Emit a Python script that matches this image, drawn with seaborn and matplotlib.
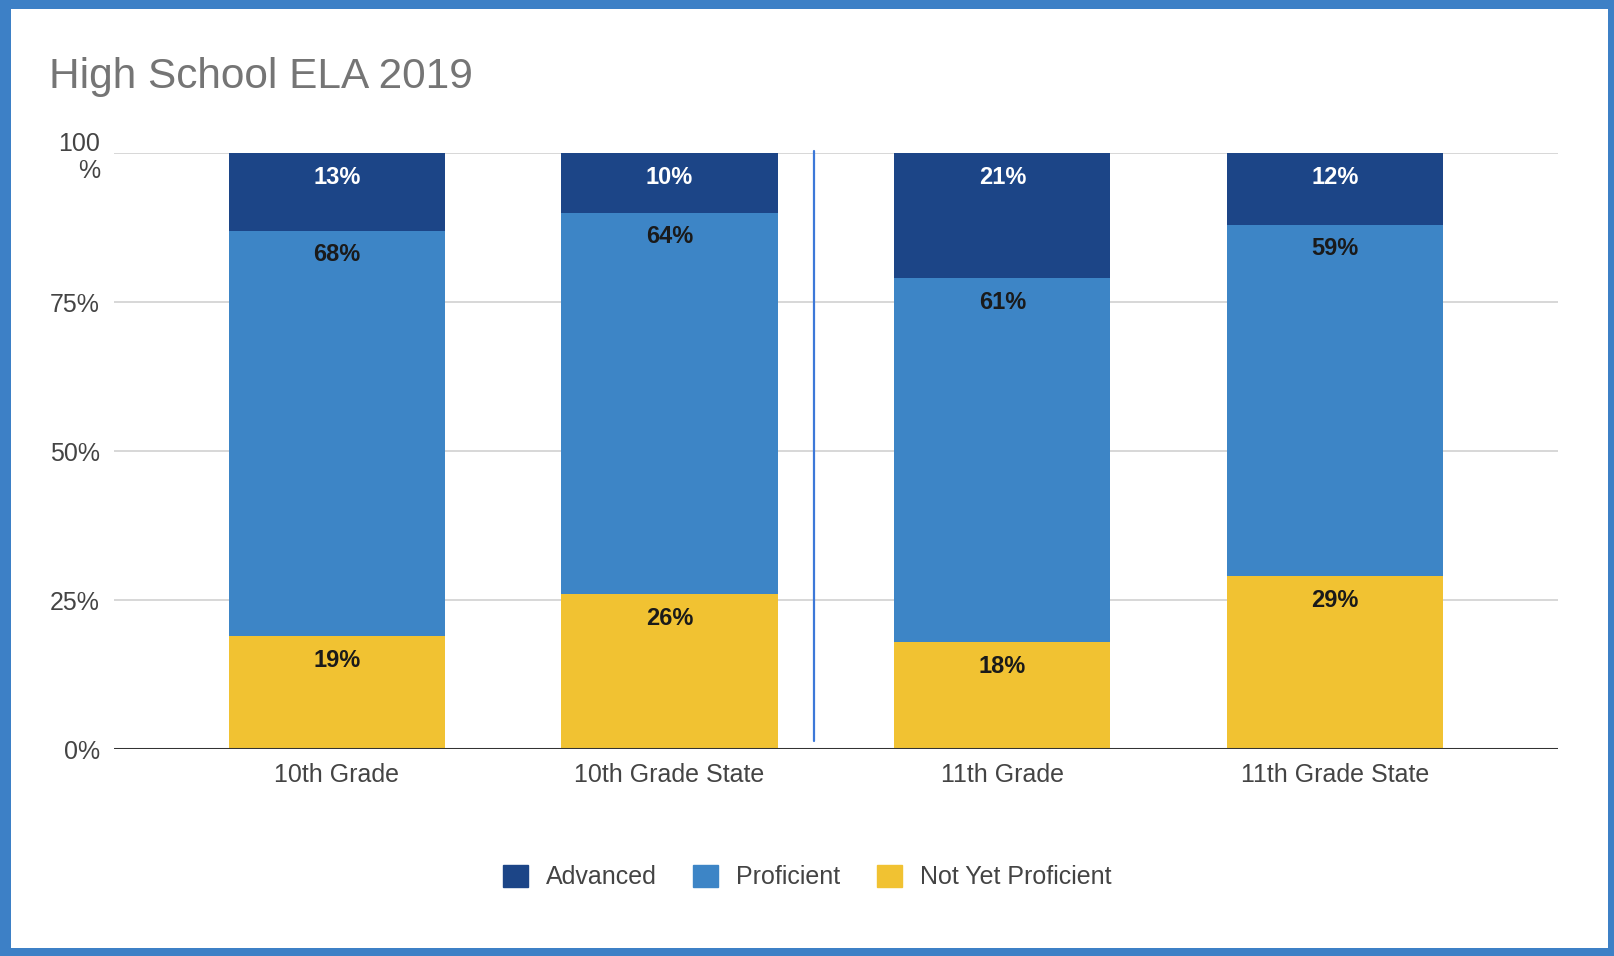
import matplotlib
matplotlib.use("Agg")
import matplotlib.pyplot as plt
import matplotlib.patches as mpatches
import seaborn as sns
import numpy as np
import pandas as pd

# datos
grupos = ["10th Grade", "10th Grade State", "11th Grade", "11th Grade State"]
advanced = [13, 10, 21, 12]
proficient = [68, 64, 61, 59]
not_yet = [19, 26, 18, 29]
series = ["Advanced", "Proficient", "Not Yet Proficient"]
yticks = [0, 25, 50, 75, 100]
ytick_labels = ["0%", "25%", "50%", "75%", "100\n%"]

colores = {"Advanced": "#1c4587", "Proficient": "#3d85c6", "Not Yet Proficient": "#f1c232"}
borde = "#3d80c6"

sns.set_theme(style="white")
plt.rcParams["font.family"] = ["Liberation Sans", "DejaVu Sans"]

df = pd.DataFrame({"grupo": grupos, "adv": advanced, "prof": proficient, "nyp": not_yet})
df["top_adv"] = df["adv"] + df["prof"] + df["nyp"]
df["top_prof"] = df["prof"] + df["nyp"]
df["top_nyp"] = df["nyp"]

fig = plt.figure(figsize=(16.14, 9.56), dpi=100)
ax = fig.add_axes([0.0706, 0.2165, 0.8947, 0.6234])

# barras apiladas: se pintan los acumulados de mayor a menor
for col, serie in zip(["top_adv", "top_prof", "top_nyp"], series):
    sns.barplot(data=df, x="grupo", y=col, order=grupos, color=colores[serie],
                width=0.65, saturation=1, ax=ax, zorder=3, linewidth=0)

ax.set_xlim(-0.67, 3.67)
ax.set_ylim(0, 100)
ax.set_yticks(yticks)
ax.set_yticklabels(ytick_labels, fontsize=18, color="#444444", multialignment="right")
ax.tick_params(axis="y", length=0, pad=10)
ax.tick_params(axis="x", length=0, pad=10, labelsize=18, labelcolor="#444444")
ax.set_xlabel("")
ax.set_ylabel("")
for s in ax.spines.values():
    s.set_visible(False)
ax.grid(axis="y", color="#d4d4d4", linewidth=1.3, zorder=0)
ax.grid(axis="x", visible=False)
ax.axhline(0, color="#333333", linewidth=2.2, zorder=4)

# línea separadora entre 10º y 11º
ax.axvline(1.435, ymin=0.013, ymax=1.003, color="#3c78d8", linewidth=1.6, zorder=5, clip_on=False)

# etiquetas de los segmentos
for i, fila in df.iterrows():
    for col, val, c in [("top_adv", fila["adv"], "white"),
                        ("top_prof", fila["prof"], "#1a1a1a"),
                        ("top_nyp", fila["nyp"], "#1a1a1a")]:
        ax.annotate(f"{val}%", xy=(i, fila[col]), xytext=(0, -17.5), textcoords="offset points",
                    ha="center", va="center", fontsize=17, fontweight="bold", color=c, zorder=6)

# título
fig.text(0.0304, 0.919, "High School ELA 2019", fontsize=30.5, color="#757575", ha="left", va="center")

# leyenda
handles = [mpatches.Patch(color=colores[s], label=s) for s in series]
leg = fig.legend(handles=handles, loc="center", bbox_to_anchor=(0.5, 0.0826), ncol=3, frameon=False,
                 fontsize=18, handlelength=1.0, handleheight=1.0, handletextpad=0.74, columnspacing=1.44)
for t in leg.get_texts():
    t.set_color("#444444")

# marco azul
for (x0, y0, w, h) in [(0, 0, 11 / 1614, 1), (0, 1 - 9 / 956, 1, 9 / 956),
                       (1 - 6 / 1614, 0, 6 / 1614, 1), (0, 0, 1, 8 / 956)]:
    fig.patches.append(mpatches.Rectangle((x0, y0), w, h, transform=fig.transFigure,
                                          facecolor=borde, edgecolor="none", zorder=10))

plt.savefig("out.png", dpi=100)
plt.close()
